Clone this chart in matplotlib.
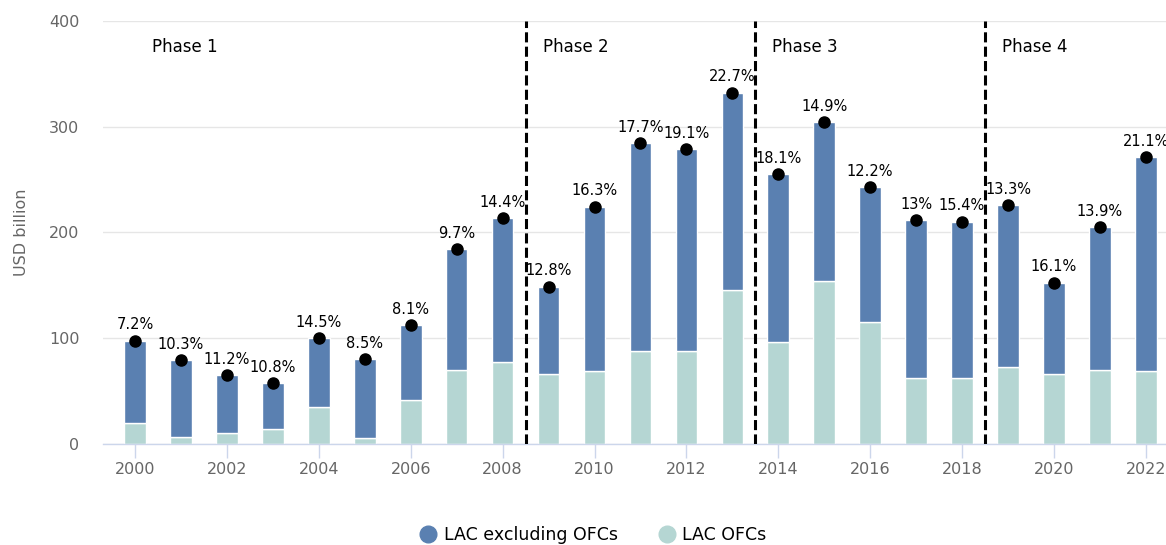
import matplotlib.pyplot as plt
from matplotlib.lines import Line2D
import numpy as np

years = np.arange(2000, 2023)
lac_excl = [78.2, 72.6, 55.2, 44.1, 64.7, 75.1, 70.9, 114.3, 136.3, 82.6, 155.8, 196.3,
            190.9, 186.7, 158.7, 150.1, 127.7, 149.8, 148.2, 153.0, 86.7, 135.1, 203.1]
lac_ofc = [19.3, 6.6, 9.8, 13.6, 35.0, 5.1, 41.4, 69.7, 77.0, 66.0, 68.5, 88.0,
           88.0, 145.5, 96.5, 154.0, 114.9, 61.9, 61.9, 72.9, 65.7, 69.7, 68.5]
pct_labels = ["7.2%", "10.3%", "11.2%", "10.8%", "14.5%", "8.5%", "8.1%", "9.7%", "14.4%",
              "12.8%", "16.3%", "17.7%", "19.1%", "22.7%", "18.1%", "14.9%", "12.2%", "13%",
              "15.4%", "13.3%", "16.1%", "13.9%", "21.1%"]
phase_names = ["Phase 1", "Phase 2", "Phase 3", "Phase 4"]
phase_starts = [2000, 2009, 2014, 2019]

blue = "#5a80b1"
teal = "#b5d6d3"
grey = "#666666"

fig = plt.figure(figsize=(11.66, 5.45), dpi=100)
ax = fig.add_axes([0.0883, 0.186, 0.9117, 0.7756])

total = np.array(lac_excl) + np.array(lac_ofc)

ax.bar(years, lac_ofc, width=0.47, color=teal, edgecolor="white", linewidth=1,
       label="LAC OFCs", zorder=2)
ax.bar(years, lac_excl, width=0.47, bottom=lac_ofc, color=blue, edgecolor="white",
       linewidth=1, label="LAC excluding OFCs", zorder=2)
ax.plot(years, total, "o", color="black", markersize=8, zorder=4)
for x, t, lab in zip(years, total, pct_labels):
    ax.annotate(lab, (x, t), xytext=(0, 8), textcoords="offset points",
                ha="center", va="baseline", fontsize=10.5, color="black", zorder=5)

# phase separators and titles
for i, start in enumerate(phase_starts):
    if i > 0:
        ax.plot([start - 0.5, start - 0.5], [0, 400], color="black", lw=2.2,
                linestyle=(0, (3.3, 1.4)), zorder=3)
    off = 0.36 if i == 0 else -0.13
    ax.text(start + off, 375, phase_names[i], fontsize=12, color="black",
            ha="left", va="center")

ax.set_xlim(1999.3, 2022.44)
ax.set_ylim(0, 400)
ax.set_yticks([0, 100, 200, 300, 400])
ax.set_xticks(np.arange(2000, 2023, 2))
ax.tick_params(axis="y", length=0, labelsize=11.5, labelcolor=grey, pad=17)
ax.tick_params(axis="x", length=10, width=1, color="#ccd6eb", labelsize=11.5,
               labelcolor=grey, pad=3)
ax.grid(axis="y", color="#e6e6e6", linewidth=1, zorder=0)
ax.set_axisbelow(True)
for s in ["left", "right", "top"]:
    ax.spines[s].set_visible(False)
ax.spines["bottom"].set_color("#ccd6eb")
ax.spines["bottom"].set_linewidth(1)
ax.set_ylabel("USD billion", fontsize=11.5, color=grey, labelpad=14)

leg_handles = [Line2D([], [], marker="o", linestyle="", markersize=12, color=blue),
               Line2D([], [], marker="o", linestyle="", markersize=12, color=teal)]
fig.legend(leg_handles, ["LAC excluding OFCs", "LAC OFCs"], loc="center",
           bbox_to_anchor=(0.508, 0.018), ncol=2, frameon=False, fontsize=12.5,
           handletextpad=0.3, columnspacing=2.2, handlelength=1.2)

fig.savefig("out.png", dpi=100)
